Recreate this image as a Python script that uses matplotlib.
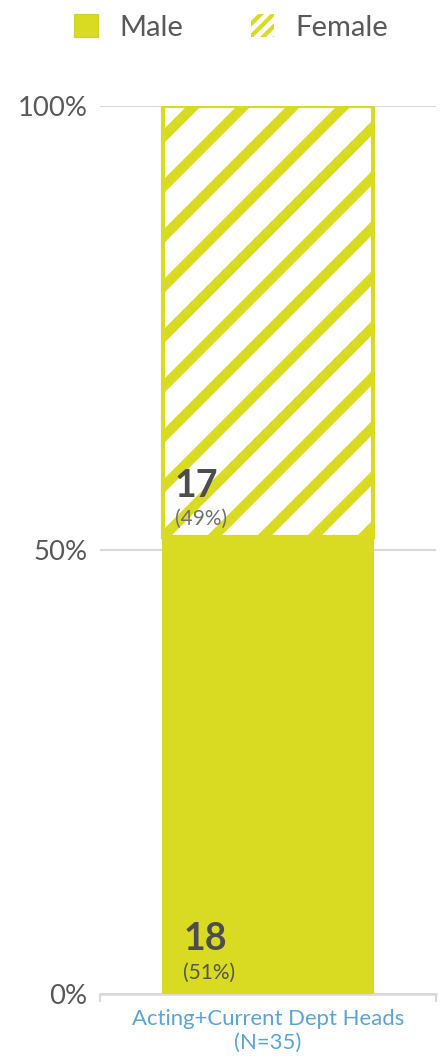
import matplotlib.pyplot as plt
import matplotlib.patches as mpatches

# Data
category = ["Acting+Current Dept Heads\n(N=35)"]
male = [18]
female = [17]
total = [35]
yticks = [0, 50, 100]
ytick_labels = ["0%", "50%", "100%"]

YELLOW = "#d9db22"
GRAY_TXT = "#595959"
GRID = "#d9d9d9"

DPI = 300
plt.rcParams['font.family'] = ['Lato', 'DejaVu Sans']
plt.rcParams['hatch.linewidth'] = 2.4

fig = plt.figure(figsize=(441 / DPI, 1057 / DPI), dpi=DPI)
ax = fig.add_axes([100 / 441, 63 / 1057, 336 / 441, 888 / 1057])

male_pct = [100 * m / t for m, t in zip(male, total)]
female_pct = [100 * f / t for f, t in zip(female, total)]

x = list(range(len(category)))
w = 0.625
ax.bar(x, female_pct, bottom=male_pct, width=w, color="white",
       edgecolor=YELLOW, hatch="//", linewidth=1.0, zorder=2)
ax.bar(x, male_pct, width=w, color=YELLOW, edgecolor=YELLOW,
       linewidth=0.5, zorder=3)

# bar labels
for i in x:
    left = i - w / 2
    ax.text(left + 0.035, male_pct[i] + 3.9, str(female[i]), fontsize=9,
            fontweight="bold", color="#4d4d4d", va="bottom", ha="left", zorder=5)
    ax.text(left + 0.035, male_pct[i] + 1.0, "(%d%%)" % round(female_pct[i]),
            fontsize=5, color="#707070", va="bottom", ha="left", zorder=5)
    ax.text(left + 0.06, 4.3, str(male[i]), fontsize=9,
            fontweight="bold", color="#4d4d4d", va="bottom", ha="left", zorder=5)
    ax.text(left + 0.06, 1.2, "(%d%%)" % round(male_pct[i]),
            fontsize=5, color="#555555", va="bottom", ha="left", zorder=5)

ax.set_xlim(-0.5, 0.5)
ax.set_ylim(0, 100)
ax.set_yticks(yticks)
ax.set_yticklabels(ytick_labels, fontsize=6.6, color=GRAY_TXT)
ax.tick_params(axis="y", length=0, pad=3)
ax.yaxis.grid(True, color=GRID, linewidth=0.5)
ax.set_axisbelow(True)

ax.set_xticks(x)
ax.set_xticklabels(category, fontsize=5.3, color="#5aa5d5", linespacing=1.25)
ax.set_xticks([-0.5, 0.5], minor=True)
ax.tick_params(axis="x", which="major", length=0, pad=3.5)
ax.tick_params(axis="x", which="minor", length=1.8, width=0.5, color=GRID)

for s in ["top", "right", "left"]:
    ax.spines[s].set_visible(False)
ax.spines["bottom"].set_color(GRID)
ax.spines["bottom"].set_linewidth(0.6)

# legend
h_male = mpatches.Patch(facecolor=YELLOW, edgecolor="#c8d23a", linewidth=0.3, label="Male")
h_fem = mpatches.Patch(facecolor="white", edgecolor=YELLOW, hatch="////////",
                       linewidth=0, label="Female")
leg = fig.legend(handles=[h_male, h_fem], loc="upper center", bbox_to_anchor=(0.525, 1.003),
                 ncol=2, frameon=False, fontsize=7, labelcolor=GRAY_TXT,
                 handlelength=0.8, handleheight=0.8, handletextpad=0.75,
                 columnspacing=2.3, borderaxespad=0.2)
try:
    leg.legend_handles[1].set_hatch_linewidth(1.0)
except Exception:
    pass

fig.savefig("out.png", dpi=DPI)
